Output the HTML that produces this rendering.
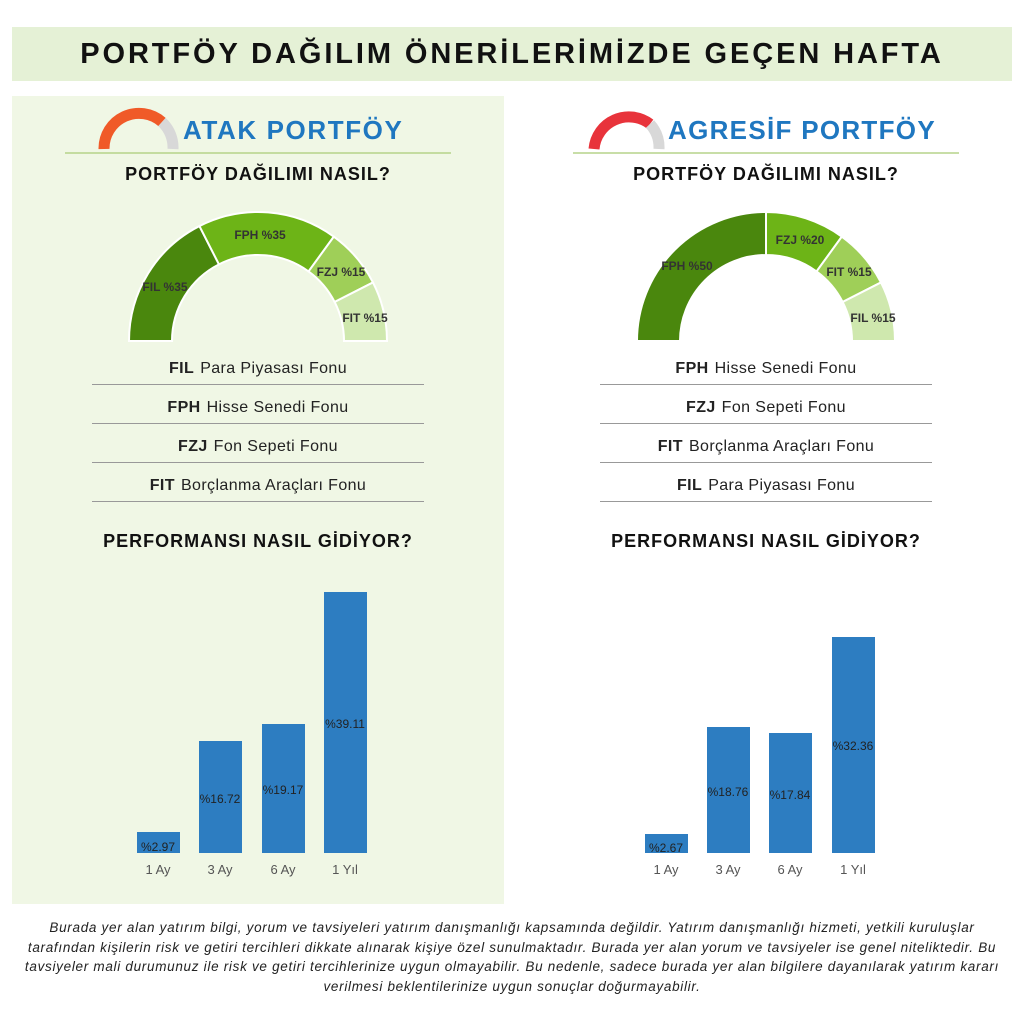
<!DOCTYPE html>
<html><head><meta charset="utf-8"><style>
body{margin:0;width:1024px;height:1024px;background:#fff;font-family:"Liberation Sans",sans-serif;position:relative;overflow:hidden}
.a{position:absolute}
.hdr{left:12px;top:27px;width:1000px;height:54px;background:#e5f1d6;font-weight:bold;font-size:29px;text-align:center;line-height:54px;color:#111;letter-spacing:2.9px}
.lp{left:12px;top:96px;width:492px;height:808px;background:#f0f7e5}
.t{font-weight:bold;color:#111;text-align:center}
.row{font-size:16px;color:#222;text-align:center;height:38px;line-height:46px;border-bottom:1.5px solid #999;letter-spacing:0.4px}
.row b{font-weight:bold;margin-right:6px}
.bar{position:absolute;background:#2d7dc1}
.bl{position:absolute;font-size:12px;color:#222;text-align:center;width:60px}
.xl{position:absolute;font-size:13px;color:#555;text-align:center;width:60px;top:862px}
.disc{left:0;top:918px;width:1024px;font-size:13.5px;font-style:italic;color:#222;text-align:center;line-height:19.5px;letter-spacing:0.7px;white-space:nowrap}
</style></head><body>
<div class="a hdr">PORTFÖY DAĞILIM ÖNERİLERİMİZDE GEÇEN HAFTA</div>
<div class="a lp"></div>

<svg class="a" style="left:0;top:0" width="1024" height="1024">
<path d="M104,149 A35,35 0 0 1 162,122" stroke="#f05a28" stroke-width="11" fill="none"/>
<path d="M162,122 A35,35 0 0 1 173,149" stroke="#d8d8d8" stroke-width="11" fill="none"/>
<path d="M594,149 A35,35 0 0 1 650,124" stroke="#e8333b" stroke-width="11" fill="none"/>
<path d="M650,124 A35,35 0 0 1 659,149" stroke="#d8d8d8" stroke-width="11" fill="none"/>
<line x1="65" y1="153" x2="451" y2="153" stroke="#b5d38a" stroke-width="1.5"/>
<line x1="573" y1="153" x2="959" y2="153" stroke="#b5d38a" stroke-width="1.5"/>
<g id="g" stroke="#fff" stroke-width="2"></g>
<text x="165" y="291" font-size="12" font-weight="bold" fill="#333" text-anchor="middle">FIL %35</text>
<text x="260" y="239" font-size="12" font-weight="bold" fill="#333" text-anchor="middle">FPH %35</text>
<text x="341" y="276" font-size="12" font-weight="bold" fill="#333" text-anchor="middle">FZJ %15</text>
<text x="365" y="322" font-size="12" font-weight="bold" fill="#333" text-anchor="middle">FIT %15</text>
<text x="687" y="270" font-size="12" font-weight="bold" fill="#333" text-anchor="middle">FPH %50</text>
<text x="800" y="244" font-size="12" font-weight="bold" fill="#333" text-anchor="middle">FZJ %20</text>
<text x="849" y="276" font-size="12" font-weight="bold" fill="#333" text-anchor="middle">FIT %15</text>
<text x="873" y="322" font-size="12" font-weight="bold" fill="#333" text-anchor="middle">FIL %15</text>
</svg>
<script>
function arc(cx,cy,R,r,a0,a1,c){const d=Math.PI/180;const p=(rr,a)=>[cx+rr*Math.cos(a*d),cy-rr*Math.sin(a*d)];
const[a,b]=p(R,a0),[e,f]=p(R,a1),[g,h]=p(r,a1),[i,j]=p(r,a0);
return `<path d="M${a},${b} A${R},${R} 0 0 1 ${e},${f} L${g},${h} A${r},${r} 0 0 0 ${i},${j}Z" fill="${c}"/>`;}
const C=["#4a870d","#6db417","#9fcf58","#cfe8ae"];
let s="";
[[180,117,0],[117,54,1],[54,27,2],[27,0,3]].forEach(x=>s+=arc(258,341,129,86,x[0],x[1],C[x[2]]));
[[180,90,0],[90,54,1],[54,27,2],[27,0,3]].forEach(x=>s+=arc(766,341,129,86,x[0],x[1],C[x[2]]));
document.getElementById("g").innerHTML=s;
</script>

<div class="a t" style="left:183px;top:115px;font-size:26px;color:#1f77c0;letter-spacing:1.6px">ATAK PORTFÖY</div>
<div class="a t" style="left:668px;top:115px;font-size:26px;color:#1f77c0;letter-spacing:1.3px">AGRESİF PORTFÖY</div>
<div class="a t" style="left:58px;top:164px;width:400px;font-size:18px;letter-spacing:1px">PORTFÖY DAĞILIMI NASIL?</div>
<div class="a t" style="left:566px;top:164px;width:400px;font-size:18px;letter-spacing:1px">PORTFÖY DAĞILIMI NASIL?</div>

<div class="a" style="left:92px;top:346px;width:332px">
<div class="row"><b>FIL</b>Para Piyasası Fonu</div>
<div class="row"><b>FPH</b>Hisse Senedi Fonu</div>
<div class="row"><b>FZJ</b>Fon Sepeti Fonu</div>
<div class="row"><b>FIT</b>Borçlanma Araçları Fonu</div>
</div>
<div class="a" style="left:600px;top:346px;width:332px">
<div class="row"><b>FPH</b>Hisse Senedi Fonu</div>
<div class="row"><b>FZJ</b>Fon Sepeti Fonu</div>
<div class="row"><b>FIT</b>Borçlanma Araçları Fonu</div>
<div class="row"><b>FIL</b>Para Piyasası Fonu</div>
</div>

<div class="a t" style="left:58px;top:531px;width:400px;font-size:18px;letter-spacing:1px">PERFORMANSI NASIL GİDİYOR?</div>
<div class="a t" style="left:566px;top:531px;width:400px;font-size:18px;letter-spacing:1px">PERFORMANSI NASIL GİDİYOR?</div>

<div class="bar" style="left:137px;top:832px;width:43px;height:21px"></div>
<div class="bar" style="left:199px;top:741px;width:43px;height:112px"></div>
<div class="bar" style="left:262px;top:724px;width:43px;height:129px"></div>
<div class="bar" style="left:324px;top:592px;width:43px;height:261px"></div>
<div class="bl" style="left:128px;top:840px">%2.97</div>
<div class="bl" style="left:190px;top:792px">%16.72</div>
<div class="bl" style="left:253px;top:783px">%19.17</div>
<div class="bl" style="left:315px;top:717px">%39.11</div>
<div class="xl" style="left:128px">1 Ay</div><div class="xl" style="left:190px">3 Ay</div><div class="xl" style="left:253px">6 Ay</div><div class="xl" style="left:315px">1 Yıl</div>

<div class="bar" style="left:645px;top:834px;width:43px;height:19px"></div>
<div class="bar" style="left:707px;top:727px;width:43px;height:126px"></div>
<div class="bar" style="left:769px;top:733px;width:43px;height:120px"></div>
<div class="bar" style="left:832px;top:637px;width:43px;height:216px"></div>
<div class="bl" style="left:636px;top:841px">%2.67</div>
<div class="bl" style="left:698px;top:785px">%18.76</div>
<div class="bl" style="left:760px;top:788px">%17.84</div>
<div class="bl" style="left:823px;top:739px">%32.36</div>
<div class="xl" style="left:636px">1 Ay</div><div class="xl" style="left:698px">3 Ay</div><div class="xl" style="left:760px">6 Ay</div><div class="xl" style="left:823px">1 Yıl</div>

<div class="a disc">Burada yer alan yatırım bilgi, yorum ve tavsiyeleri yatırım danışmanlığı kapsamında değildir. Yatırım danışmanlığı hizmeti, yetkili kuruluşlar<br>tarafından kişilerin risk ve getiri tercihleri dikkate alınarak kişiye özel sunulmaktadır. Burada yer alan yorum ve tavsiyeler ise genel niteliktedir. Bu<br>tavsiyeler mali durumunuz ile risk ve getiri tercihlerinize uygun olmayabilir. Bu nedenle, sadece burada yer alan bilgilere dayanılarak yatırım kararı<br>verilmesi beklentilerinize uygun sonuçlar doğurmayabilir.</div>
</body></html>
